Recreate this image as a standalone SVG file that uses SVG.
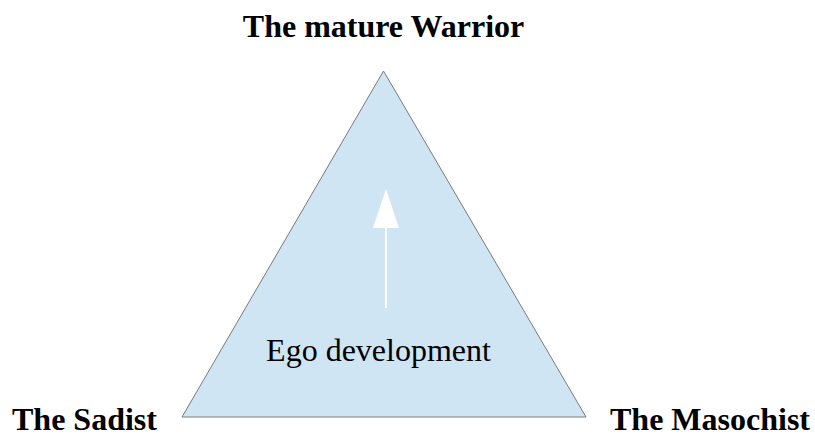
<svg xmlns="http://www.w3.org/2000/svg" width="815" height="434" viewBox="0 0 815 434">
<style>
.lbl{font-family:"Liberation Serif","Times New Roman",serif;font-weight:bold;font-size:32px;fill:#000}
.inner{font-family:"Liberation Serif","Times New Roman",serif;font-size:32px;fill:#000}
</style>
<rect width="815" height="434" fill="#fff"/>
<g id="triangle">
<polygon points="383.5,71 182,417 586,417" fill="#cfe5f3" stroke="#7a7a7a" stroke-width="1"/>
</g>
<g id="connectors">
<line x1="386" y1="226" x2="386" y2="308" stroke="#fff" stroke-width="2"/>
<polygon points="386,189 373,228 399,228" fill="#fff"/>
</g>
<g id="top"><text class="lbl" x="383.5" y="37" text-anchor="middle">The mature Warrior</text></g>
<g id="center"><text class="inner" x="378.5" y="361" text-anchor="middle">Ego development</text></g>
<g id="left"><text class="lbl" x="12" y="430">The Sadist</text></g>
<g id="right"><text class="lbl" x="810" y="430" text-anchor="end">The Masochist</text></g>
</svg>
